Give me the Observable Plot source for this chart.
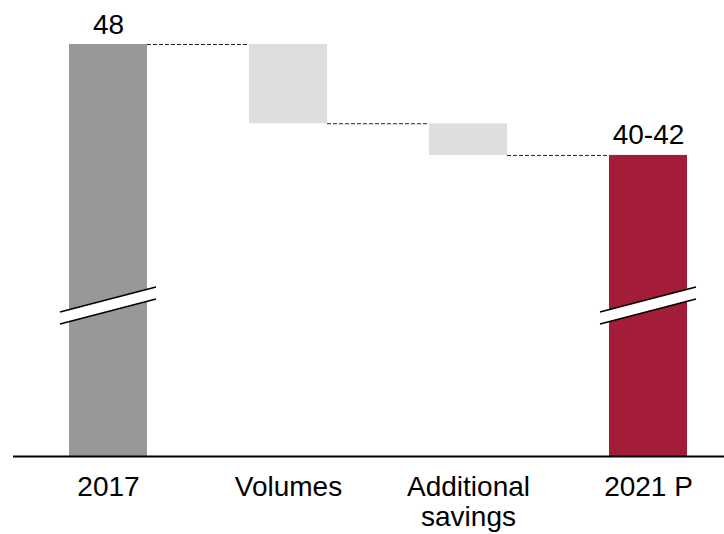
<!DOCTYPE html>
<html>
<head>
<meta charset="utf-8">
<script src="https://cdn.jsdelivr.net/npm/d3@7"></script>
<script src="https://cdn.jsdelivr.net/npm/@observablehq/plot@0.6"></script>
<style>
  html, body { margin: 0; padding: 0; background: #fff; }
</style>
</head>
<body>
<div id="chart"></div>
<script>
// Bridge from 2017 to the 2021 outlook
const categories = ["2017", "Volumes", "Additional savings", "2021 P"];
const tickLabels = ["2017", "Volumes", "Additional\nsavings", "2021 P"];
const startValue = 48;          // 2017
const deltas = [-5, -2];        // Volumes, Additional savings
const outlookRange = [40, 42];  // 2021 P

// The value axis is broken: it starts at axisFloor, and the break sits at breakAt
const axisFloor = 22;
const breakAt = 31.5;

const fills = {start: "#989898", delta: "#dedede", end: "#a31c38"};

// Waterfall rows
const outlook = d3.mean(outlookRange);
const rows = [{category: categories[0], kind: "start", y1: axisFloor, y2: startValue, label: String(startValue)}];
let level = startValue;
deltas.forEach((d, i) => {
  rows.push({category: categories[i + 1], kind: "delta", y1: level, y2: level + d, label: null});
  level += d;
});
rows.push({category: categories[3], kind: "end", y1: axisFloor, y2: outlook, label: `${outlookRange[0]}-${outlookRange[1]}`});

// Dashed connectors from the end of one bar to the next
const running = [startValue];
deltas.forEach(d => running.push(running[running.length - 1] + d));
const connectors = running.map((v, i) => ({from: categories[i], to: categories[i + 1], level: v}));

const width = 724, height = 534;
const margins = {marginTop: 44, marginRight: 0, marginBottom: 78, marginLeft: 13};
const xOptions = {
  type: "band",
  domain: categories,
  range: [margins.marginLeft, width - margins.marginRight],
  paddingInner: 0.5667,
  paddingOuter: 0.2583,
  align: 0.602
};
const bandwidth = Plot.scale({x: xOptions}).bandwidth;

// Axis-break symbol drawn across the two total bars
function axisBreaks(index, scales) {
  const x = scales.x, y = scales.y;
  const bw = typeof x.bandwidth === "function" ? x.bandwidth() : bandwidth;
  const g = d3.create("svg:g");
  for (const c of [categories[0], categories[3]]) {
    const cx = x(c) + bw / 2;
    const cy = y(breakAt);
    const half = bw / 2 + 9, rise = 12.5, gap = 6;
    g.append("path")
      .attr("d", `M${cx - half},${cy - gap + rise}L${cx + half},${cy - gap - rise}L${cx + half},${cy + gap - rise}L${cx - half},${cy + gap + rise}Z`)
      .attr("fill", "white");
    for (const off of [-gap, gap]) {
      g.append("line")
        .attr("x1", cx - half).attr("y1", cy + off + rise)
        .attr("x2", cx + half).attr("y2", cy + off - rise)
        .attr("stroke", "black")
        .attr("stroke-width", 1.6);
    }
  }
  return g.node();
}

const chart = Plot.plot({
  width, height, ...margins,
  style: {fontFamily: "'Liberation Sans', Arial, sans-serif", fontSize: "28px", background: "white", color: "black", overflow: "visible"},
  x: {...xOptions, range: undefined, axis: null},
  y: {domain: [axisFloor, startValue], axis: null},
  marks: [
    Plot.barY(rows, {x: "category", y1: "y1", y2: "y2", fill: d => fills[d.kind]}),
    axisBreaks,
    Plot.ruleY(connectors, {x1: "from", x2: "to", y: "level", stroke: "#222", strokeWidth: 1, strokeDasharray: "4,2", insetLeft: bandwidth, insetRight: bandwidth}),
    Plot.text(rows.filter(d => d.label), {x: "category", y: "y2", text: "label", dy: -11, lineAnchor: "bottom", fontSize: 28, fill: "black"}),
    Plot.text(categories, {x: d => d, text: (d, i) => tickLabels[i], frameAnchor: "bottom", dy: 18, lineAnchor: "top", lineHeight: 1.08, fontSize: 28, fill: "black"}),
    Plot.ruleY([axisFloor], {stroke: "black", strokeWidth: 2})
  ]
});

document.getElementById("chart").appendChild(chart);
</script>
</body>
</html>
